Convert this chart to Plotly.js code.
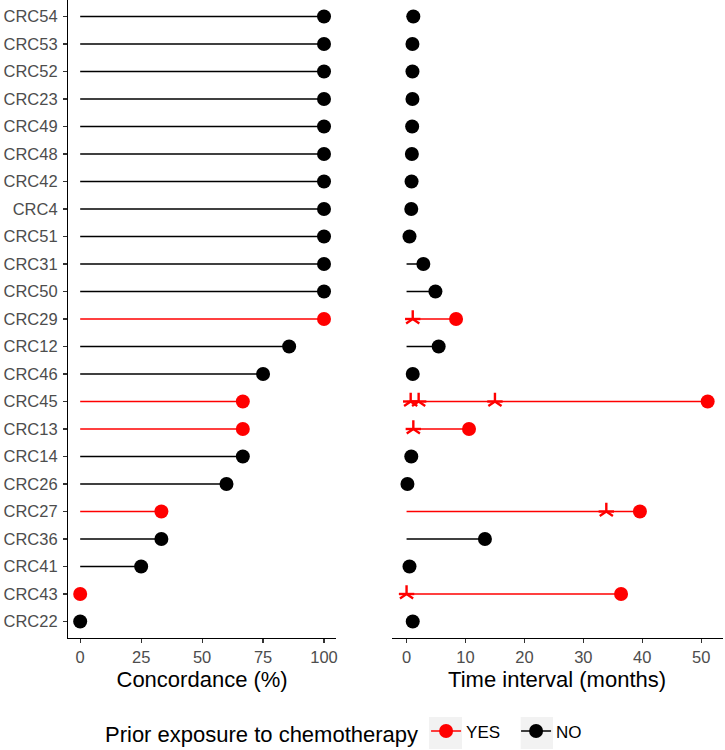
<!DOCTYPE html>
<html>
<head>
<meta charset="utf-8">
<script src="https://cdn.plot.ly/plotly-3.0.1.min.js"></script>
<style>html,body{margin:0;padding:0;background:#fff;}#chart{width:725px;height:750px;}</style>
</head>
<body>
<div id="chart"></div>
<script>
// Patients, top to bottom as shown
const patients = ["CRC54","CRC53","CRC52","CRC23","CRC49","CRC48","CRC42","CRC4","CRC51","CRC31","CRC50","CRC29","CRC12","CRC46","CRC45","CRC13","CRC14","CRC26","CRC27","CRC36","CRC41","CRC43","CRC22"];
const concordance = [100,100,100,100,100,100,100,100,100,100,100,100,85.7,75,66.7,66.7,66.7,60,33.3,33.3,25,0,0];
const timeInterval = [1.15,1.0,1.0,1.0,0.95,0.9,0.85,0.8,0.5,2.85,4.9,8.4,5.45,1.05,51.1,10.6,0.8,0.15,39.6,13.3,0.5,36.4,1.05];
const priorChemo = ["NO","NO","NO","NO","NO","NO","NO","NO","NO","NO","NO","YES","NO","NO","YES","YES","NO","NO","YES","NO","NO","YES","NO"];
// Chemotherapy time points (asterisks)
const chemoPatients = ["CRC29","CRC45","CRC45","CRC45","CRC13","CRC27","CRC43"];
const chemoTimes = [1.05,0.7,2.05,15.0,1.15,33.9,0.0];

const groups = ["YES","NO"];
const colors = {YES:"#FF0000", NO:"#000000"};
const FONT = "Liberation Sans, Arial, sans-serif";

const traces = [];
function segs(values, grp){
  const x=[], y=[];
  patients.forEach((p,i)=>{ if(priorChemo[i]===grp){ x.push(0, values[i], null); y.push(p, p, null);} });
  return {x, y};
}
function pts(values, grp){
  const x=[], y=[];
  patients.forEach((p,i)=>{ if(priorChemo[i]===grp){ x.push(values[i]); y.push(p);} });
  return {x, y};
}
[["x","y",concordance],["x2","y2",timeInterval]].forEach(([xa,ya,vals])=>{
  groups.forEach(g=>{
    const s = segs(vals,g);
    traces.push({type:"scatter", mode:"lines", x:s.x, y:s.y, xaxis:xa, yaxis:ya,
      line:{color:colors[g], width:1.5}, showlegend:false, hoverinfo:"skip", cliponaxis:false});
  });
});
[["x","y",concordance],["x2","y2",timeInterval]].forEach(([xa,ya,vals])=>{
  groups.forEach(g=>{
    const s = pts(vals,g);
    traces.push({type:"scatter", mode:"markers", x:s.x, y:s.y, xaxis:xa, yaxis:ya,
      marker:{color:colors[g], size:14}, showlegend:false, cliponaxis:false});
  });
});
// asterisks: built from two open symbols
["y-up-open","line-ew-open"].forEach(sym=>{
  traces.push({type:"scatter", mode:"markers", x:chemoTimes, y:chemoPatients, xaxis:"x2", yaxis:"y2",
    marker:{symbol:sym, size:11, color:"#FF0000", line:{color:"#FF0000", width:2.4}},
    showlegend:false, cliponaxis:false});
});
// legend entries
groups.forEach(g=>{
  traces.push({type:"scatter", mode:"lines+markers", x:[null], y:[null], xaxis:"x", yaxis:"y", name:g,
    line:{color:colors[g], width:1.5}, marker:{color:colors[g], size:14}, showlegend:true});
});

const catArray = patients.slice().reverse();
const tickFont = {family:FONT, size:16.5, color:"#4D4D4D"};
const titleFont = {family:FONT, size:22, color:"#000000"};
const W=725, H=750, ML=68, MR=2, MT=0, MB=112;
const PW=W-ML-MR, PH=H-MT-MB;
const px = v => (v-ML)/PW;
const py = v => (H-MB-v)/PH;

const layout = {
  width:W, height:H,
  margin:{l:ML, r:MR, t:MT, b:MB, pad:0},
  paper_bgcolor:"#FFFFFF", plot_bgcolor:"rgba(0,0,0,0)",
  font:{family:FONT},
  showlegend:true,
  xaxis:{domain:[0, px(336.2)], range:[-5,105], tickvals:[0,25,50,75,100], anchor:"y",
    showline:true, linecolor:"#000000", linewidth:1.1, ticks:"outside", ticklen:4, tickwidth:1.1, tickcolor:"#333333",
    showgrid:false, zeroline:false, tickfont:tickFont,
    title:{text:"Concordance (%)", font:titleFont, standoff:6}},
  xaxis2:{domain:[px(391.5), px(722.7)], range:[-2.555,53.65], tickvals:[0,10,20,30,40,50], anchor:"y2",
    showline:true, linecolor:"#000000", linewidth:1.1, ticks:"outside", ticklen:4, tickwidth:1.1, tickcolor:"#333333",
    showgrid:false, zeroline:false, tickfont:tickFont,
    title:{text:"Time interval (months)", font:titleFont, standoff:6}},
  yaxis:{domain:[0,1], type:"category", categoryorder:"array", categoryarray:catArray, range:[-0.6,22.6], anchor:"x",
    showline:true, linecolor:"#000000", linewidth:1.1, ticks:"outside", ticklen:4, tickwidth:1.1, tickcolor:"#333333",
    showgrid:false, zeroline:false, tickfont:tickFont, ticklabelstandoff:2},
  yaxis2:{domain:[0,1], type:"category", categoryorder:"array", categoryarray:catArray, range:[-0.6,22.6], anchor:"x2",
    showline:false, ticks:"", showticklabels:false, showgrid:false, zeroline:false},
  legend:{orientation:"h", xref:"container", yref:"container", x:103/W, xanchor:"left", y:(H-733)/H, yanchor:"middle",
    bgcolor:"rgba(0,0,0,0)", borderwidth:0, font:{family:FONT, size:17, color:"#000000"},
    title:{text:"Prior exposure to chemotherapy", font:{family:FONT, size:22, color:"#000000"}, side:"left"},
    itemwidth:30, entrywidth:45, traceorder:"normal"},
  shapes:[
    {type:"rect", xref:"paper", yref:"paper", x0:px(429), x1:px(462), y0:py(749), y1:py(717), fillcolor:"#F2F2F2", line:{width:0}, layer:"below"},
    {type:"rect", xref:"paper", yref:"paper", x0:px(520.7), x1:px(553), y0:py(749), y1:py(717), fillcolor:"#F2F2F2", line:{width:0}, layer:"below"}
  ]
};
Plotly.newPlot("chart", traces, layout, {displayModeBar:false, staticPlot:true});
</script>
</body>
</html>
